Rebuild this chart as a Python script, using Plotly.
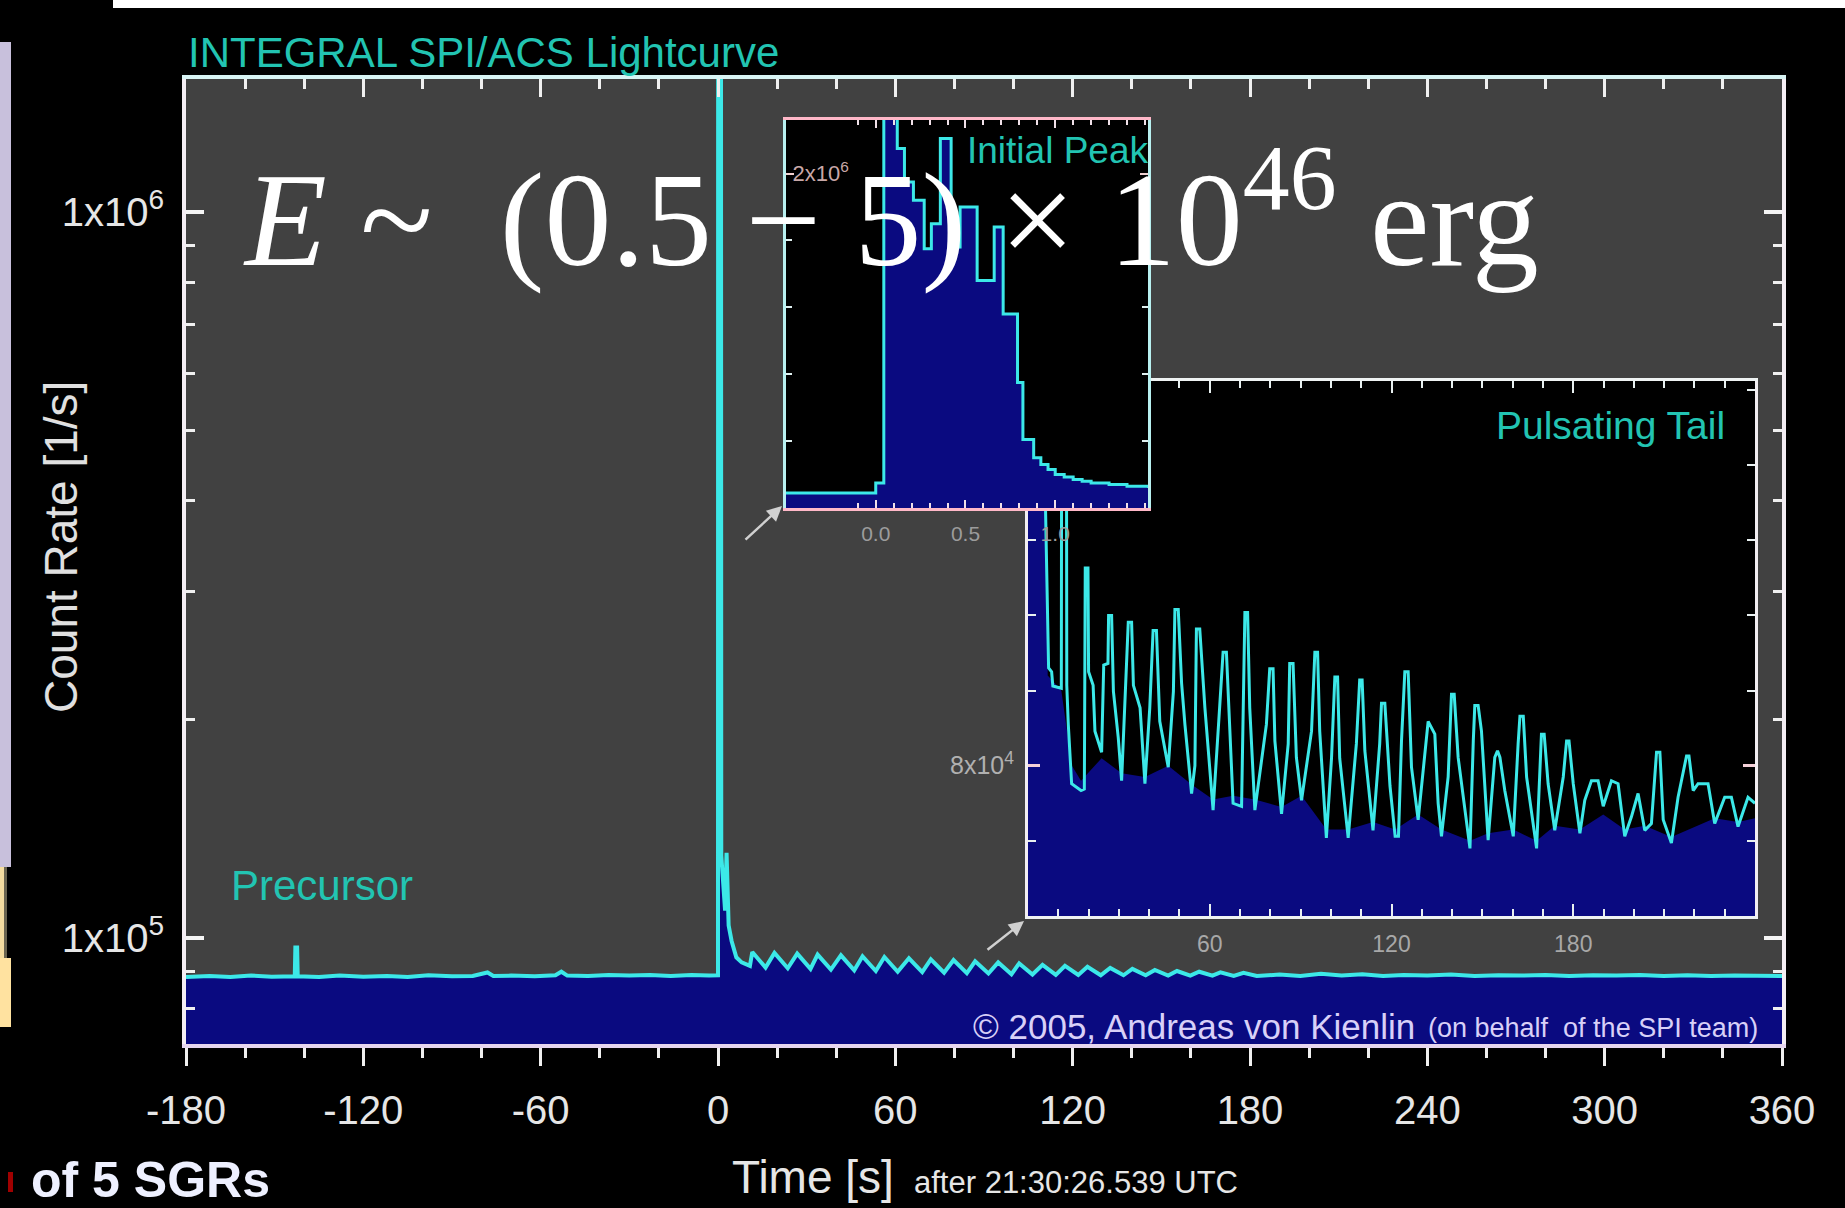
import plotly.graph_objects as go

# ---------------- data ----------------
# Main light curve: time [s] after 21:30:26.539 UTC, count rate in 1e3 counts/s
main_t = [-180, -172, -165, -158, -151, -143.2, -143.0, -142.4, -142.2, -135, -128, -120,
          -112, -105, -98, -90, -83, -78, -76, -70, -62, -55, -53, -51, -44, -37, -30,
          -23, -16, -9, -3, -0.2,
          0.0, 0.05, 1.0, 1.1, 2.4, 2.9, 3.3, 3.6, 4.6, 6.2, 8.0, 10.8,
          11.6, 16.1, 19.1, 23.6, 26.8, 31.3, 33.7, 38.2, 41.6, 46.1, 48.9, 53.4,
          56.3, 60.8, 64.6, 69.1, 72.0, 76.5, 79.7, 84.2, 87.0, 91.5, 94.8, 99.3,
          101.9, 106.4, 109.8, 114.3, 117.4, 121.9, 125.0, 129.5, 132.7, 137.2,
          140.2, 144.7, 147.8, 152.3, 155.3, 159.8, 162.8, 167.3, 170.0, 174.5,
          177.8, 182.3,
          190, 197, 204, 211, 218, 225, 232, 240, 248, 256, 264, 272, 280, 288,
          296, 304, 312, 320, 328, 336, 344, 352, 360]
main_rate_k = [88.3, 88.6, 88.3, 88.7, 88.4, 88.5, 97.0, 97.0, 88.5, 88.3, 88.7, 88.4,
               88.6, 88.3, 88.8, 88.5, 88.6, 89.6, 88.6, 88.7, 88.5, 88.8, 89.8, 88.7,
               88.6, 88.9, 88.7, 88.9, 88.6, 88.9, 88.7, 88.8,
               88.8, 2500, 2500, 130, 109, 131, 109, 104, 99, 94.0, 92.5, 91.5,
               95.6, 91.0, 95.3, 90.8, 95.1, 90.6, 94.8, 90.4, 94.6, 90.2, 94.3, 90.0,
               94.1, 89.8, 93.7, 89.7, 93.4, 89.5, 93.2, 89.4, 92.8, 89.3, 92.5, 89.1,
               92.2, 89.0, 91.8, 88.9, 91.5, 88.9, 91.2, 88.8, 90.9, 88.8,
               90.6, 88.8, 90.3, 88.7, 90.0, 88.7, 89.8, 88.7, 89.6, 88.6,
               89.5, 88.6,
               89.0, 88.6, 89.2, 88.7, 89.1, 88.6, 88.9, 88.7, 89.0, 88.6, 88.8, 88.7,
               88.9, 88.6, 88.8, 88.7, 88.9, 88.6, 88.8, 88.6, 88.7, 88.6, 88.6]

# Inset "Initial Peak": 50 ms bins (bin start time [s]), rate in 1e6 counts/s
peak_t = [-0.50, 0.00, 0.045, 0.12, 0.16, 0.21, 0.27, 0.31, 0.36, 0.42, 0.47, 0.565,
          0.66, 0.71, 0.79, 0.82, 0.88, 0.92, 0.96, 1.00, 1.05, 1.10, 1.15, 1.20,
          1.30, 1.40, 1.52]
peak_rate_M = [0.09, 0.15, 2.60, 2.15, 1.95, 1.84, 1.55, 1.70, 2.21, 1.56, 1.80, 1.36,
               1.68, 1.16, 0.75, 0.41, 0.30, 0.26, 0.23, 0.20, 0.185, 0.17, 0.16, 0.15,
               0.14, 0.13, 0.12]

# Inset "Pulsating Tail": time [s], rate in 1e3 counts/s
tail_t = [0.0, 5.0, 5.6, 6.5, 6.8, 7.8, 8.2, 11.0, 11.2, 12.6, 12.8, 13.3, 14.4, 17.5,
          18.6, 18.9, 19.8, 20.0, 21.5, 22.1, 24.3, 25.0, 26.4, 26.6, 27.6, 28.2, 29.8,
          30.9, 32.0, 33.1, 34.2, 34.8, 37.0, 38.6, 40.2, 41.3, 42.4, 43.5, 46.3, 48.0,
          48.5, 49.6, 50.7, 51.8, 54.0, 55.1, 55.6, 56.7, 58.4, 61.1, 63.3, 64.4, 65.5,
          66.3, 67.7, 70.5, 71.0, 71.6, 72.5, 73.2, 74.9, 78.7, 79.8, 80.9, 81.5, 83.7,
          85.9, 86.4, 87.5, 88.6, 90.3, 93.6, 94.7, 95.6, 96.3, 98.5, 100.2, 101.3,
          102.2, 102.9, 105.7, 108.4, 109.5, 110.3, 111.2, 113.9, 116.1, 116.7, 117.8,
          119.5, 121.2, 122.3, 123.3, 124.4, 125.5, 126.6, 128.8, 131.0, 132.1, 134.3,
          135.4, 136.5, 138.7, 139.8, 140.7, 142.0, 145.9, 147.0, 147.5, 148.6, 149.7,
          151.9, 154.1, 155.0, 155.8, 157.4, 160.2, 161.8, 162.4, 163.5, 164.6, 167.9,
          169.0, 169.5, 170.4, 171.7, 173.9, 176.7, 177.8, 178.6, 180.0, 182.2, 183.8,
          186.0, 188.2, 189.9, 192.6, 194.8, 197.0, 199.2, 201.4, 203.6, 205.8, 207.5,
          208.6, 209.7, 212.4, 214.6, 217.4, 218.2, 219.6, 221.2, 224.5, 226.7, 230.0,
          232.2, 234.4, 237.7, 240.0]
tail_rate_k = [200, 200, 118, 97.8, 93.0, 92.5, 90.6, 90.3, 160, 160, 90.7, 85.5, 77.6,
               76.7, 76.9, 106.3, 106.3, 92.5, 90.7, 84.6, 81.8, 93.4, 93.6, 100.0, 100.0,
               89.9, 83.7, 78.0, 87.7, 99.1, 99.1, 90.7, 87.7, 77.6, 87.7, 98.0, 98.0,
               85.9, 79.8, 89.9, 100.8, 100.8, 91.0, 85.5, 76.3, 80.0, 98.2, 98.2, 87.7,
               74.1, 88.0, 95.1, 95.1, 88.0, 75.0, 74.6, 87.7, 100.4, 100.4, 87.7, 74.1,
               85.5, 92.9, 92.9, 83.3, 73.6, 82.9, 93.6, 93.6, 81.1, 75.4, 84.6, 95.1,
               95.1, 84.6, 70.4, 81.0, 91.8, 91.8, 81.0, 70.4, 82.9, 91.4, 91.4, 82.0,
               71.4, 82.9, 88.3, 88.3, 77.3, 70.6, 70.6, 83.3, 92.5, 92.5, 79.8, 72.8,
               82.0, 85.9, 84.2, 75.0, 70.6, 78.5, 89.5, 89.5, 81.1, 69.0, 83.3, 88.0,
               88.0, 84.6, 70.1, 81.1, 82.0, 81.1, 76.7, 70.6, 82.9, 86.6, 86.6, 78.5,
               69.0, 81.1, 84.2, 84.2, 77.6, 71.4, 78.5, 83.3, 83.3, 77.6, 71.0, 75.4,
               78.0, 78.0, 74.6, 78.0, 77.6, 70.6, 73.2, 76.3, 71.4, 72.3, 81.8, 81.8,
               72.8, 69.7, 75.8, 81.3, 81.3, 76.7, 77.6, 77.6, 72.3, 75.8, 75.8, 71.9,
               75.8, 75.0]
# lower (filled) envelope of the tail
floor_t = [0, 5.5, 6.5, 11, 14.5, 17.5, 24.3, 30.9, 38.6, 46.3, 54.0, 61.1, 67.7, 74.9,
           83.7, 90.3, 98.5, 105.7, 113.9, 121.2, 128.8, 136.5, 145.9, 151.9, 160.2,
           167.9, 173.9, 182.2, 189.9, 197.0, 203.6, 212.4, 226.7, 234.4, 240]
floor_k = [200, 200, 92, 90, 80, 78, 81, 79, 78.5, 80, 77.5, 75.5, 76, 75.5, 74.5, 76,
           71.5, 71.5, 72.5, 71.5, 73.5, 71.5, 70, 71, 71.5, 70, 72, 71.5, 73.5, 71.5,
           72, 70.5, 73, 72.5, 73]

# ticks
main_xticks = [-180, -120, -60, 0, 60, 120, 180, 240, 300, 360]
main_xtext = ["-180", "-120", "-60", "0", "60", "120", "180", "240", "300", "360"]
main_xminor = [-160, -140, -100, -80, -40, -20, 20, 40, 80, 100, 140, 160, 200, 220,
               260, 280, 320, 340]
main_yticks = [1e5, 1e6]
main_ytext = ["1x10<sup>5</sup>", "1x10<sup>6</sup>"]
main_yminor = [8e4, 9e4, 2e5, 3e5, 4e5, 5e5, 6e5, 7e5, 8e5, 9e5]
tail_xticks = [60, 120, 180]
tail_xminor = [10, 20, 30, 40, 50, 70, 80, 90, 100, 110, 130, 140, 150, 160, 170, 190,
               200, 210, 220, 230]
tail_yticks = [80000]
tail_ytext = ["8x10<sup>4</sup>"]
tail_yminor = [70000, 90000, 100000, 110000, 120000, 130000]
peak_xticks = [0.0, 0.5, 1.0]
peak_xtext = ["0.0", "0.5", "1.0"]
peak_xminor = [-0.4, -0.3, -0.2, -0.1, 0.1, 0.2, 0.3, 0.4, 0.6, 0.7, 0.8, 0.9, 1.1,
               1.2, 1.3, 1.4, 1.5]
peak_yticks = [2e6]
peak_ytext = ["2x10<sup>6</sup>"]
peak_yminor = [4e5, 8e5, 1.2e6, 1.6e6]

# ---------------- style ----------------
W, H = 1845, 1208
SANS = "Liberation Sans, Arial, sans-serif"
SERIF = "Liberation Serif, Times New Roman, serif"
CYAN = "#3ce8e8"
NAVY = "#0a0a80"
TEAL = "#22c4b2"
GRAY_BG = "#414141"
TXT = "#e6e6e6"


def fx(p):
    return p / W


def fy(p):
    return 1 - p / H


fig = go.Figure()

# main curve
fig.add_trace(go.Scatter(
    x=main_t, y=[v * 1000 for v in main_rate_k], mode="lines",
    line=dict(color=CYAN, width=4), fill="tozeroy", fillcolor=NAVY,
    xaxis="x", yaxis="y", hoverinfo="skip", showlegend=False))
# invisible point to register the top (mirror) axis
fig.add_trace(go.Scatter(
    x=[main_t[0]], y=[main_rate_k[0] * 1000], mode="markers",
    marker=dict(opacity=0), xaxis="x4", yaxis="y", hoverinfo="skip", showlegend=False))

# tail inset
fig.add_trace(go.Scatter(
    x=floor_t, y=[v * 1000 for v in floor_k], mode="lines",
    line=dict(width=0, color=NAVY), fill="tozeroy", fillcolor=NAVY,
    xaxis="x2", yaxis="y2", hoverinfo="skip", showlegend=False))
fig.add_trace(go.Scatter(
    x=tail_t, y=[v * 1000 for v in tail_rate_k], mode="lines",
    line=dict(color=CYAN, width=3),
    xaxis="x2", yaxis="y2", hoverinfo="skip", showlegend=False))

# initial peak inset
fig.add_trace(go.Scatter(
    x=peak_t, y=[v * 1e6 for v in peak_rate_M], mode="lines",
    line=dict(color=CYAN, width=3, shape="hv"), fill="tozeroy", fillcolor=NAVY,
    xaxis="x3", yaxis="y3", hoverinfo="skip", showlegend=False))

common = dict(showgrid=False, zeroline=False, automargin=False)

layout = dict(
    width=W, height=H, margin=dict(l=0, r=0, t=0, b=0, pad=0, autoexpand=False),
    paper_bgcolor="black", plot_bgcolor=GRAY_BG, hovermode=False,
    showlegend=False,
    xaxis=dict(domain=[fx(186), fx(1782)], range=[-180, 360], anchor="y",
               tickmode="array", tickvals=main_xticks, ticktext=main_xtext,
               ticks="outside", ticklen=18,
               tickwidth=3, tickcolor="#f0f0f0", showline=True, linecolor="#e6d6f0",
               linewidth=4, ticklabelstandoff=10,
               tickfont=dict(family=SANS, size=40, color=TXT),
               minor=dict(tickmode="array", tickvals=main_xminor, ticks="outside",
                          ticklen=10, tickwidth=3, tickcolor="#f0f0f0"),
               **common),
    xaxis4=dict(domain=[fx(186), fx(1782)], range=[-180, 360], anchor="y",
                overlaying="x", side="top", tickmode="array", tickvals=main_xticks,
                ticks="inside", ticklen=18, tickwidth=3, tickcolor="#f0f0f0",
                showticklabels=False, showline=True, linecolor="#d8f4f4", linewidth=4,
                minor=dict(tickmode="array", tickvals=main_xminor, ticks="inside",
                           ticklen=10, tickwidth=3, tickcolor="#f0f0f0"),
                **common),
    yaxis=dict(domain=[fy(1044), fy(79)], type="log",
               range=[4.8537, 6.1833], anchor="x",
               tickmode="array", tickvals=main_yticks, ticktext=main_ytext,
               ticks="inside", ticklen=18, tickwidth=4, tickcolor="#f4f4f4",
               mirror="ticks", showline=True, linecolor="#f4eef4", linewidth=4,
               ticklabelstandoff=10,
               tickfont=dict(family=SANS, size=40, color=TXT),
               minor=dict(tickmode="array", tickvals=main_yminor, ticks="inside",
                          ticklen=9, tickwidth=3, tickcolor="#f0f0f0"),
               **common),
    xaxis2=dict(domain=[fx(1028), fx(1755)], range=[0, 240], anchor="y2",
                tickmode="array", tickvals=tail_xticks, ticks="inside", ticklen=12,
                tickwidth=2, tickcolor="#e8f0f0", mirror="ticks", showline=True,
                linecolor="#eef2f2", linewidth=3, ticklabelstandoff=5,
                tickfont=dict(family=SANS, size=23, color="#a8a8a8"),
                minor=dict(tickmode="array", tickvals=tail_xminor, ticks="inside",
                           ticklen=7, tickwidth=2, tickcolor="#e8f0f0"),
                **common),
    yaxis2=dict(domain=[fy(916), fy(381)], range=[60000, 131200], anchor="x2",
                tickmode="array", tickvals=tail_yticks, ticktext=tail_ytext,
                ticks="inside", ticklen=12, tickwidth=3, tickcolor="#f4d0d8",
                mirror="ticks", showline=True, linecolor="#f2eef2", linewidth=3,
                ticklabelstandoff=6,
                tickfont=dict(family=SANS, size=25, color="#b0b0b0"),
                minor=dict(tickmode="array", tickvals=tail_yminor, ticks="inside",
                           ticklen=8, tickwidth=2, tickcolor="#e8f0f0"),
                **common),
    xaxis3=dict(domain=[fx(786), fx(1148)], range=[-0.5, 1.517], anchor="y3",
                tickmode="array", tickvals=peak_xticks, ticktext=peak_xtext,
                ticks="inside", ticklen=8, tickwidth=2, tickcolor="#f0e0e8",
                mirror="ticks", showline=True, linecolor="#ffb8c8", linewidth=3,
                ticklabelstandoff=5,
                tickfont=dict(family=SANS, size=21, color="#9c9c9c"),
                minor=dict(tickmode="array", tickvals=peak_xminor, ticks="inside",
                           ticklen=5, tickwidth=2, tickcolor="#f0e0e8"),
                **common),
    yaxis3=dict(domain=[fy(508), fy(120)], range=[0, 2.32e6], anchor="x3",
                tickmode="array", tickvals=peak_yticks, ticktext=peak_ytext,
                ticks="inside", ticklen=8, tickwidth=2, tickcolor="#f0d0d0",
                ticklabelposition="inside", mirror="ticks", showline=True,
                linecolor="#b8f0f0", linewidth=3,
                tickfont=dict(family=SANS, size=22, color="#c8a8a8"),
                minor=dict(tickmode="array", tickvals=peak_yminor, ticks="inside",
                           ticklen=6, tickwidth=2, tickcolor="#e0f0f0"),
                **common),
)
fig.update_layout(**layout)

shapes = [
    # black backgrounds of the insets (drawn inside each inset subplot)
    dict(type="rect", xref="x2", yref="y2", x0=0, x1=240, y0=60000, y1=131200,
         fillcolor="black", line=dict(width=0), layer="below"),
    dict(type="rect", xref="x3", yref="y3", x0=-0.5, x1=1.517, y0=0, y1=2.32e6,
         fillcolor="black", line=dict(width=0), layer="below"),
    # slide decorations
    dict(type="rect", xref="paper", yref="paper", x0=fx(113), x1=1, y0=fy(8), y1=1,
         fillcolor="white", line=dict(width=0)),
    dict(type="rect", xref="paper", yref="paper", x0=0, x1=fx(11), y0=fy(867), y1=fy(42),
         fillcolor="#c8c0dc", line=dict(width=0)),
    dict(type="rect", xref="paper", yref="paper", x0=0, x1=fx(4), y0=fy(960), y1=fy(867),
         fillcolor="#f4dca0", line=dict(width=0)),
    dict(type="rect", xref="paper", yref="paper", x0=fx(4), x1=fx(7), y0=fy(960), y1=fy(867),
         fillcolor="#6a6450", line=dict(width=0)),
    dict(type="rect", xref="paper", yref="paper", x0=0, x1=fx(11), y0=fy(1027), y1=fy(958),
         fillcolor="#ffe2a0", line=dict(width=0)),
    dict(type="rect", xref="paper", yref="paper", x0=fx(8), x1=fx(13), y0=fy(1192), y1=fy(1172),
         fillcolor="#a00000", line=dict(width=0)),
]
fig.update_layout(shapes=shapes)


def note(text, x, y, size, color, xanchor="left", family=SANS, angle=0):
    return dict(text=text, x=fx(x), y=fy(y), xref="paper", yref="paper",
                xanchor=xanchor, yanchor="middle", showarrow=False, textangle=angle,
                font=dict(family=family, size=size, color=color))


annotations = [
    note("INTEGRAL SPI/ACS Lightcurve", 186, 53, 42, TEAL),
    note("Precursor", 229, 885, 42, TEAL),
    note("Initial Peak", 965, 150, 37, TEAL),
    note("Pulsating Tail", 1727, 426, 39, TEAL, xanchor="right"),
    note("\u00a9 2005, Andreas von Kienlin", 971, 1026, 35, "#d8d0f8"),
    note("(on behalf  of the SPI team)", 1426, 1028, 27, "#d8d0f8"),
    note("Count Rate [1/s]", 61, 547, 46, "#e0e0e0", xanchor="center", angle=-90),
    note("Time [s]", 730, 1177, 46, TXT),
    note("after 21:30:26.539 UTC", 912, 1182, 31, TXT),
    note("<b>of 5 SGRs</b>", 29, 1180, 50, "#eef0ff"),
    note("<i>E</i> ~\u00a0 (0.5 \u2212 5) \u00d7 10<sup>46</sup> erg", 241, 210, 134,
         "white", family=SERIF),
    dict(x=fx(782), y=fy(506), xref="paper", yref="paper", ax=-38, ay=35,
         showarrow=True, arrowhead=2, arrowsize=1.2, arrowwidth=2.5, arrowcolor="#d0d0d0",
         text=""),
    dict(x=fx(1024), y=fy(921), xref="paper", yref="paper", ax=-38, ay=30,
         showarrow=True, arrowhead=2, arrowsize=1.2, arrowwidth=2.5, arrowcolor="#d0d0d0",
         text=""),
]
fig.update_layout(annotations=annotations)

page_fix = ("document.documentElement.style.margin='0';"
            "document.documentElement.style.overflow='hidden';"
            "document.body.style.margin='0';"
            "document.body.style.overflow='hidden';"
            "document.body.style.background='black';")

fig.write_html("out.html", config={"displayModeBar": False}, post_script=page_fix)
